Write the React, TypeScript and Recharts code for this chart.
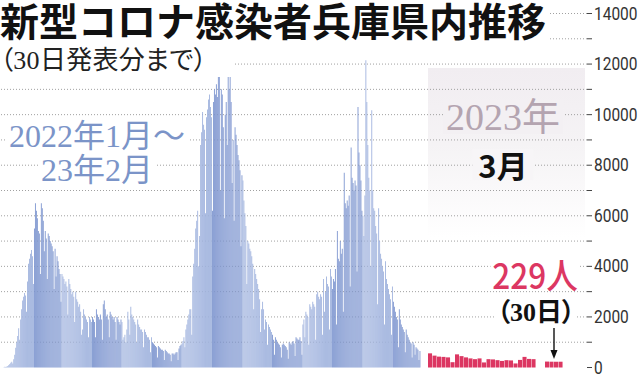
import React from 'react';
import { BarChart, Bar, XAxis, YAxis, Cell, ReferenceLine } from 'recharts';

// ---- data (daily new cases, Hyogo) ----
const MONTH_LABELS = ['2022-01','2022-02','2022-03','2022-04','2022-05','2022-06','2022-07','2022-08','2022-09','2022-10','2022-11','2022-12','2023-01','2023-02'];
const JAN_2022 = [12,25,18,35,60,95,140,190,230,160,330,500,780,1000,1250,1550,1100,1900,2300,2650,2800,2950,2850,2200,3400,4100,4300,4500,4650,4400,3300];
const FEB_2022 = [5500,6500,6200,5900,5400,5300,3700,6500,6300,5800,4600,5400,5100,3500,5300,5200,5000,4900,4800,4600,3100,4700,3600,4400,4200,3900,3700,2600];
const MAR_2022 = [3700,3600,3500,3300,3400,3200,2100,3500,3300,3100,2900,3000,2800,1800,3000,2700,2600,2400,2500,2200,1300,1500,2300,2100,2000,1900,1800,1200,2000,1900,1800];
const APR_2022 = [2000,1900,1800,1200,2300,2100,2000,1900,2100,1900,1100,2500,2650,2300,2000,2100,1900,1200,2200,2100,2000,1900,2000,1800,1100,2000,1900,1800,1700,1900];
const MAY_2022 = [1800,1100,1200,1300,1000,1500,2200,1900,1300,2400,2100,2000,1900,1800,1700,1000,1900,1700,1600,1500,1500,1400,800,1500,1400,1300,1200,1200,1100,600,1200];
const JUN_2022 = [1000,950,900,850,800,400,850,800,750,700,700,650,300,700,650,600,550,550,500,250,550,550,500,550,600,600,300,750,850,900];
const JUL_2022 = [950,1050,1200,800,1500,1700,1900,2100,2300,2300,1300,3600,4100,4700,5500,5800,6200,4000,5200,8800,9300,10100,9600,9400,6100,9900,10200,10600,10800,10300,9900];
const AUG_2022 = [6200,10500,11000,10800,11200,10700,11500,12300,7000,11000,10800,9500,5900,10000,10500,8800,12200,11000,11750,10500,7300,9000,5800,9500,9200,8800,8400,8200,7800,4800,7600];
const SEP_2022 = [7400,6600,6100,5600,3300,5000,4900,4700,4600,4400,4100,2300,3900,3700,3500,3300,3100,2700,1400,2300,2600,2300,1500,1900,1800,900,1700,1600,1500,1400];
const OCT_2022 = [1300,1100,500,1200,1100,1000,950,900,800,400,900,950,900,850,800,700,350,1000,950,900,1000,1050,950,450,1200,1150,1100,1100,1200,1050,500];
const NOV_2022 = [1700,1900,1200,2200,2100,2000,900,2500,2400,2300,2600,2500,2400,1100,2900,3000,2800,2700,2900,2800,1300,3500,2200,3000,3600,3300,3200,1500,3900,3600];
const DEC_2022 = [3100,3500,3400,3900,1700,5400,4300,4200,5000,4500,4700,2200,7700,6500,6300,6600,6400,6800,3200,8700,7500,7300,7000,7400,7200,3800,10300,8500,8000,7400,6200];
const JAN_2023 = [6000,5200,6800,12150,10500,8800,7500,7000,4000,10170,7000,6300,6200,5600,5300,2500,6300,5000,4500,4300,4000,3800,1700,4200,3500,3300,3100,2900,2700,1300,3200];
const FEB_2023 = [2600,2400,2200,2000,1900,800,2300,1900,1700,1600,1500,1400,600,1500,1300,1200,1100,1000,950,400,1000,900,500,800,750,700,300,650];
const MAR_2023 = [560,470,430,420,400,210,520,450,400,360,330,360,200,330,320,290,260,290,280,160,300,420,340,330,null,null,235,230,228,229];

const Y_TICKS = [0,1000,2000,3000,4000,5000,6000,7000,8000,9000,10000,11000,12000,13000,14000];
const GRID_VALUES = [1000,2000,3000,4000,5000,6000,7000,8000,9000,10000,11000,12000,13000,14000];

const BLUE_MONTHS = [JAN_2022,FEB_2022,MAR_2022,APR_2022,MAY_2022,JUN_2022,JUL_2022,AUG_2022,SEP_2022,OCT_2022,NOV_2022,DEC_2022,JAN_2023,FEB_2023];

const blueData = BLUE_MONTHS.flatMap((arr, m) =>
  arr.map((v, i) => ({ key: `${MONTH_LABELS[m]}-${i + 1}`, v, m }))
);
const marchData = MAR_2023.map((v, i) => ({ day: `${i + 1}`, v }));

// ---- layout / style ----
const W = 640;
const H = 376;
const TOP = 13.5;
const BOTTOM = 8.5;
const BLUE_LEFT = 3.5;
const BLUE_RIGHT = 420.5;
const MARCH_LEFT = 428;
const MARCH_RIGHT = 563;
const PLOT_RIGHT = 587;
const LIGHT = '#a0b3de';
const DARK = '#7d95cf';
const RED = '#dc3762';
const SANS = '"Noto Sans CJK JP", "Noto Sans", sans-serif';
const SERIF = '"Liberation Serif", "Noto Sans CJK JP", serif';

const RightTick = (props: any) => {
  const { x, y, payload } = props;
  if (payload.value % 2000 !== 0) return <g />;
  return (
    <text
      x={0}
      y={0}
      transform={`translate(${x},${y}) scale(0.86,1)`}
      dy="0.34em"
      fontSize={18}
      fontFamily="Roboto, sans-serif"
      fill="#333"
      textAnchor="start"
    >
      {payload.value}
    </text>
  );
};

const abs = (s: React.CSSProperties): React.CSSProperties => ({ position: 'absolute', whiteSpace: 'nowrap', ...s });

export default function App() {
  const band = (MARCH_RIGHT - MARCH_LEFT) / MAR_2023.length;
  const blueBand = (BLUE_RIGHT - BLUE_LEFT) / blueData.length;
  const arrowX = MARCH_LEFT + 28 * band;
  return (
    <div style={{ position: 'absolute', left: 0, top: 0, width: W, height: H, background: '#fff', overflow: 'hidden' }}>
      {/* March panel background */}
      <div style={abs({ left: MARCH_LEFT, top: 68, width: PLOT_RIGHT - MARCH_LEFT - 2, height: 170, background: 'linear-gradient(#f1edf1 0%, #f5f3f5 45%, #ffffff 100%)' })} />

      {/* grid, axis, March bars */}
      <div style={abs({ left: 0, top: 0 })}>
        <BarChart width={W} height={H} data={marchData} margin={{ top: TOP, right: 0, bottom: BOTTOM, left: 0 }} barCategoryGap={0} barGap={0}>
          <XAxis dataKey="day" hide padding={{ left: MARCH_LEFT, right: PLOT_RIGHT - MARCH_RIGHT }} />
          <YAxis
            orientation="right"
            width={W - PLOT_RIGHT}
            domain={[0, 14000]}
            ticks={Y_TICKS}
            interval={0}
            tick={RightTick}
            tickSize={5}
            tickMargin={2}
            tickLine={{ stroke: '#444', strokeWidth: 1 }}
            axisLine={false}
          />
          {GRID_VALUES.map((g) => (
            <ReferenceLine key={g} y={g} stroke="#a0a0a0" strokeWidth={1} strokeDasharray="1 2" />
          ))}
          <Bar dataKey="v" fill={RED} barSize={band + 0.1} isAnimationActive={false} />
        </BarChart>
      </div>

      {/* Jan 2022 - Feb 2023 bars */}
      <div style={abs({ left: 0, top: 0 })}>
        <BarChart width={W} height={H} data={blueData} margin={{ top: TOP, right: W - BLUE_RIGHT, bottom: BOTTOM, left: BLUE_LEFT }} barCategoryGap={0} barGap={0}>
          <XAxis dataKey="key" hide />
          <YAxis hide domain={[0, 14000]} ticks={Y_TICKS} />
          <Bar dataKey="v" barSize={blueBand + 0.35} isAnimationActive={false}>
            {blueData.map((d, i) => (
              <Cell key={i} fill={d.m % 2 === 0 ? LIGHT : DARK} />
            ))}
          </Bar>
        </BarChart>
      </div>

      {/* titles */}
      <div style={abs({ left: 0, top: 0, paddingRight: 4, height: 44, fontFamily: SANS, fontWeight: 700, fontSize: 39, lineHeight: '39px', color: '#111', background: '#fff' })}>
        新型コロナ感染者兵庫県内推移
      </div>
      <div style={abs({ left: 0, top: 48, width: 234, height: 29, fontFamily: SERIF, fontSize: 26, lineHeight: '26px', letterSpacing: '0.3px', color: '#222', background: '#fff', fontFeatureSettings: '"palt"' })}>
        （30日発表分まで）
      </div>

      {/* period label */}
      <div style={abs({ left: 97, top: 121, transform: 'translateX(-50%)', fontFamily: SERIF, fontSize: 32, lineHeight: '30px', color: '#7b94c8', background: '#fff', padding: '0 3px' })}>
        2022年1月～
      </div>
      <div style={abs({ left: 97, top: 155, transform: 'translateX(-50%)', fontFamily: SERIF, fontSize: 32, lineHeight: '30px', color: '#7b94c8', background: '#fff', padding: '0 3px' })}>
        23年2月
      </div>

      {/* March panel labels */}
      <div style={abs({ left: 503, top: 100, transform: 'translateX(-50%)', fontFamily: SERIF, fontSize: 38, lineHeight: '34px', color: '#b4a4b0', background: '#f3f0f3', padding: '0 3px' })}>
        2023年
      </div>
      <div style={abs({ left: 503, top: 149, transform: 'translateX(-50%)', fontFamily: SANS, fontWeight: 700, fontSize: 31, lineHeight: '31px', color: '#111', background: '#f7f5f7', padding: '0 6px' })}>
        3月
      </div>
      <div style={abs({ left: 535, top: 256, transform: 'translateX(-50%) scaleX(0.9)', fontFamily: SANS, fontWeight: 500, fontSize: 35, lineHeight: '35px', color: RED, background: '#fff', padding: '0 2px' })}>
        229人
      </div>
      <div style={abs({ left: 536, top: 300, transform: 'translateX(-50%)', fontFamily: SERIF, fontWeight: 700, fontSize: 26, lineHeight: '26px', color: '#111', background: '#fff', fontFeatureSettings: '"palt"', padding: '0 1px' })}>
        （30日）
      </div>

      {/* arrow */}
      <svg width={W} height={H} style={abs({ left: 0, top: 0, pointerEvents: 'none' })}>
        <line x1={arrowX} y1={328} x2={arrowX} y2={352} stroke="#111" strokeWidth={1.4} />
        <polygon points={`${arrowX - 3.5},${350} ${arrowX + 3.5},${350} ${arrowX},${359}`} fill="#111" />
      </svg>
    </div>
  );
}
